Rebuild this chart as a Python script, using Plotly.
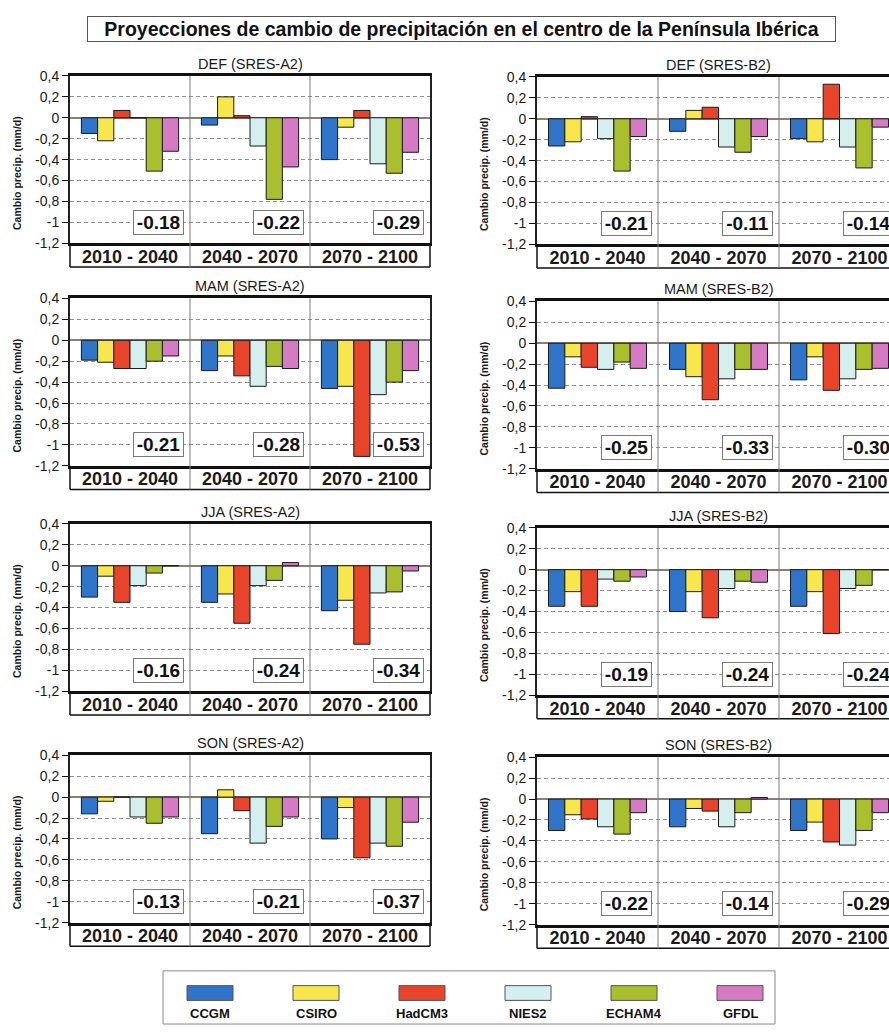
import plotly.graph_objects as go

# ---------------- data ----------------
MODELS = ["CCGM", "CSIRO", "HadCM3", "NIES2", "ECHAM4", "GFDL"]
COLORS = ["#2f74c8", "#f8e74c", "#e8432b", "#d5eeee", "#a9bf2e", "#d67ac4"]
PERIODS = ["2010 - 2040", "2040 - 2070", "2070 - 2100"]

YTICKS = [0.4, 0.2, 0, -0.2, -0.4, -0.6, -0.8, -1.0, -1.2]
YTICKTEXT = ["0,4", "0,2", "0", "-0,2", "-0,4", "-0,6", "-0,8", "-1", "-1,2"]

# rows = models (CCGM, CSIRO, HadCM3, NIES2, ECHAM4, GFDL); cols = periods
DEF_A2 = [[-0.15, -0.07, -0.40], [-0.22, 0.20, -0.09], [0.07, 0.02, 0.07],
          [0.0, -0.27, -0.44], [-0.51, -0.78, -0.53], [-0.32, -0.47, -0.33]]
DEF_A2_MEAN = [-0.18, -0.22, -0.29]
DEF_B2 = [[-0.26, -0.12, -0.19], [-0.22, 0.08, -0.22], [0.02, 0.11, 0.33],
          [-0.19, -0.27, -0.27], [-0.50, -0.32, -0.47], [-0.17, -0.17, -0.08]]
DEF_B2_MEAN = [-0.21, -0.11, -0.14]
MAM_A2 = [[-0.19, -0.29, -0.46], [-0.21, -0.15, -0.44], [-0.27, -0.34, -1.11],
          [-0.27, -0.44, -0.52], [-0.20, -0.25, -0.40], [-0.15, -0.27, -0.29]]
MAM_A2_MEAN = [-0.21, -0.28, -0.53]
MAM_B2 = [[-0.43, -0.25, -0.35], [-0.13, -0.32, -0.13], [-0.23, -0.54, -0.45],
          [-0.25, -0.34, -0.34], [-0.18, -0.25, -0.25], [-0.24, -0.25, -0.24]]
MAM_B2_MEAN = [-0.25, -0.33, -0.30]
JJA_A2 = [[-0.30, -0.35, -0.43], [-0.10, -0.27, -0.33], [-0.35, -0.55, -0.75],
          [-0.19, -0.19, -0.26], [-0.07, -0.14, -0.25], [0.0, 0.03, -0.05]]
JJA_A2_MEAN = [-0.16, -0.24, -0.34]
JJA_B2 = [[-0.35, -0.40, -0.35], [-0.21, -0.21, -0.21], [-0.35, -0.46, -0.61],
          [-0.09, -0.18, -0.18], [-0.11, -0.11, -0.15], [-0.07, -0.12, 0.0]]
JJA_B2_MEAN = [-0.19, -0.24, -0.24]
SON_A2 = [[-0.16, -0.35, -0.40], [-0.04, 0.07, -0.10], [0.0, -0.13, -0.58],
          [-0.19, -0.44, -0.44], [-0.25, -0.28, -0.47], [-0.19, -0.19, -0.24]]
SON_A2_MEAN = [-0.13, -0.21, -0.37]
SON_B2 = [[-0.30, -0.265, -0.30], [-0.15, -0.09, -0.22], [-0.19, -0.115, -0.41],
          [-0.265, -0.265, -0.44], [-0.335, -0.13, -0.30], [-0.13, 0.015, -0.13]]
SON_B2_MEAN = [-0.22, -0.14, -0.29]

TITLE = "Proyecciones de cambio de precipitación en el centro de la Península Ibérica"
YTITLE = "Cambio precip. (mm/d)"

PANELS = [
    ("DEF (SRES-A2)", DEF_A2, DEF_A2_MEAN, 0, 0),
    ("DEF (SRES-B2)", DEF_B2, DEF_B2_MEAN, 1, 0),
    ("MAM (SRES-A2)", MAM_A2, MAM_A2_MEAN, 0, 1),
    ("MAM (SRES-B2)", MAM_B2, MAM_B2_MEAN, 1, 1),
    ("JJA (SRES-A2)", JJA_A2, JJA_A2_MEAN, 0, 2),
    ("JJA (SRES-B2)", JJA_B2, JJA_B2_MEAN, 1, 2),
    ("SON (SRES-A2)", SON_A2, SON_A2_MEAN, 0, 3),
    ("SON (SRES-B2)", SON_B2, SON_B2_MEAN, 1, 3),
]

# ---------------- layout geometry (pixels) ----------------
W, H = 889, 1034
FONT = "Liberation Sans, Arial, sans-serif"
COL_X = [(70, 430), (537, 889)]
COL_RANGE_END = [2.5, -0.5 + 3 * (889 - 537) / 363.0]  # right column is cut by the page edge
ROW_TOPS = [[69, 295, 524, 759], [70, 298, 528, 761]]
PLOT_H = 170
LABEL_ROW = 24 / PLOT_H  # category label row below each plot, in domain units

fig = go.Figure()
layout = dict(
    width=W, height=H, margin=dict(l=0, r=0, t=0, b=0),
    paper_bgcolor="white", plot_bgcolor="white",
    showlegend=False, barmode="group", bargap=0.19, bargroupgap=0,
    font=dict(family=FONT, color="#1a1a1a"),
)
shapes = []
annotations = []

for k, (ptitle, vals, means, col, row) in enumerate(PANELS):
    n = k + 1
    sfx = "" if n == 1 else str(n)
    xa, ya = "x" + sfx, "y" + sfx
    for m, model in enumerate(MODELS):
        fig.add_trace(go.Bar(
            x=PERIODS, y=vals[m], name=model, xaxis=xa, yaxis=ya,
            marker=dict(color=COLORS[m], line=dict(color="#1a1a1a", width=1)),
            hoverinfo="x+y+name",
        ))
    x0, x1 = COL_X[col]
    top = ROW_TOPS[col][row]
    bot = top + PLOT_H
    layout["xaxis" + sfx] = dict(
        domain=[x0 / W, x1 / W], anchor=ya, type="category",
        range=[-0.5, COL_RANGE_END[col]], showgrid=False, zeroline=False,
        showline=True, linecolor="#111", linewidth=2.5, mirror=True,
        ticks="", ticklabelstandoff=-5,
        tickfont=dict(size=18, weight="bold", color="#1a1a1a"),
        fixedrange=True,
    )
    layout["yaxis" + sfx] = dict(
        domain=[1 - bot / H, 1 - top / H], anchor=xa,
        range=[-1.2, 0.4], tickvals=YTICKS, ticktext=YTICKTEXT,
        tickfont=dict(size=14, color="#1a1a1a"),
        ticks="outside", ticklen=6, tickwidth=1, tickcolor="#111",
        showline=True, linecolor="#222", linewidth=2, mirror=(col == 0),
        showgrid=True, gridcolor="#8f8f8f", gridwidth=1, griddash="4px,3px",
        zeroline=True, zerolinecolor="#8a8070", zerolinewidth=1.5,
        fixedrange=True,
    )
    # category label row frame and period separators
    shapes.append(dict(type="line", xref=xa + " domain", yref=ya + " domain",
                       x0=0, x1=0, y0=-LABEL_ROW, y1=0, line=dict(color="#111", width=1.5)))
    shapes.append(dict(type="line", xref=xa + " domain", yref=ya + " domain",
                       x0=0, x1=1, y0=-LABEL_ROW, y1=-LABEL_ROW, line=dict(color="#111", width=1.5)))
    if col == 0:
        shapes.append(dict(type="line", xref=xa + " domain", yref=ya + " domain",
                           x0=1, x1=1, y0=-LABEL_ROW, y1=0, line=dict(color="#111", width=1.5)))
    for b in (0.5, 1.5):
        shapes.append(dict(type="line", xref=xa, yref=ya + " domain",
                           x0=b, x1=b, y0=-LABEL_ROW, y1=1, line=dict(color="#7a7a7a", width=1)))
    # panel title
    annotations.append(dict(text=ptitle, xref=xa, yref=ya + " domain", x=1, y=1,
                            yshift=12, showarrow=False, xanchor="center", yanchor="middle",
                            font=dict(size=14.5, color="#1a1a1a")))
    # y-axis title
    annotations.append(dict(text=YTITLE, xref=xa + " domain", yref=ya + " domain",
                            x=0, y=0.42, xshift=-53, textangle=-90, showarrow=False,
                            xanchor="center", yanchor="middle",
                            font=dict(size=10.5, weight="bold", color="#1a1a1a")))
    # period mean boxes
    for i, mval in enumerate(means):
        annotations.append(dict(text=f"{mval:.2f}", xref=xa, yref=ya, x=i + 0.24, y=-1.0,
                                showarrow=False, xanchor="center", yanchor="middle",
                                width=47, height=21, bgcolor="white",
                                bordercolor="#7a7a7a", borderwidth=1, borderpad=1,
                                font=dict(size=19, weight="bold", color="#111")))

# main title box
annotations.append(dict(text=TITLE, xref="paper", yref="paper", x=461.5 / W, y=1 - 21.5 / H,
                        showarrow=False, xanchor="center", yanchor="middle",
                        width=745, height=22, bgcolor="white",
                        bordercolor="#555", borderwidth=1, borderpad=1,
                        font=dict(size=19.5, weight="bold", color="#111")))

# legend (swatch above label)
LEG_X0, LEG_X1, LEG_Y0, LEG_Y1 = 163, 775, 978, 1032
shapes.append(dict(type="rect", xref="paper", yref="paper",
                   x0=LEG_X0 / W, x1=LEG_X1 / W, y0=1 - LEG_Y1 / H, y1=1 - LEG_Y0 / H,
                   line=dict(color="#8a8a8a", width=1), fillcolor="white", layer="below"))
for m, model in enumerate(MODELS):
    cx = 210 + 106 * m
    shapes.append(dict(type="rect", xref="paper", yref="paper",
                       x0=(cx - 23) / W, x1=(cx + 23) / W, y0=1 - 1008 / H, y1=1 - 993 / H,
                       fillcolor=COLORS[m], line=dict(color="#555", width=1)))
    annotations.append(dict(text=model, xref="paper", yref="paper", x=cx / W, y=1 - 1021 / H,
                            showarrow=False, xanchor="center", yanchor="middle",
                            font=dict(size=13, weight="bold", color="#111")))

layout["shapes"] = shapes
layout["annotations"] = annotations
fig.update_layout(**layout)
fig.write_html(
    "out.html",
    config={"displayModeBar": False},
    post_script="document.body.style.margin='0';document.body.style.overflow='hidden';",
)
